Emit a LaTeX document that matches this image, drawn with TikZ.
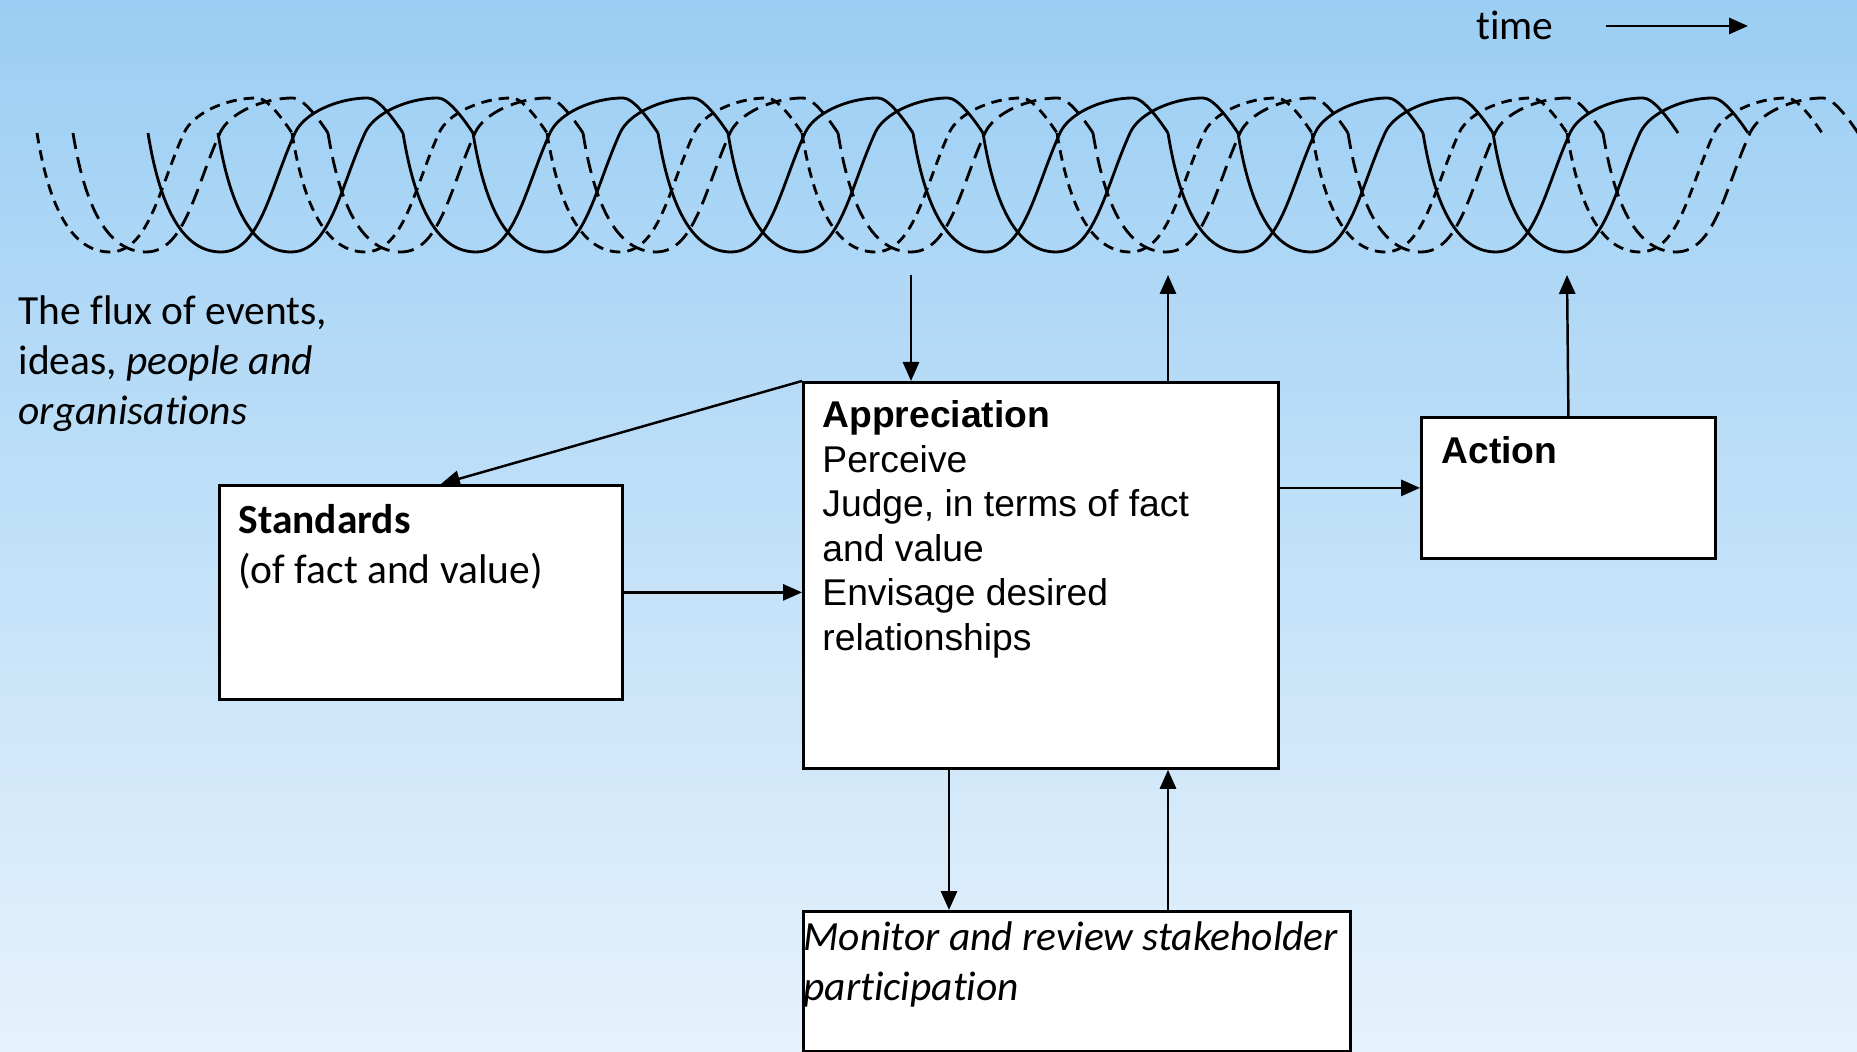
\documentclass[tikz,border=0pt]{standalone}
\usepackage{fontspec}
\setmainfont{Carlito}[Ligatures=NoCommon]
\newfontfamily\arialfont{Liberation Sans}
\usetikzlibrary{arrows.meta}

\definecolor{skytop}{RGB}{155,206,244}
\definecolor{skybot}{RGB}{230,242,252}

\tikzset{
  box/.style={draw, fill=white, line width=0.8pt, anchor=north west},
  arr/.style={line width=0.7pt, -{Triangle[length=5.4pt,width=4.6pt]}},
  strand/.style={line width=0.8pt},
  shortdash/.style={strand, dash pattern=on 3pt off 2pt},
  longdash/.style={strand, dash pattern=on 4.6pt off 2.4pt},
}
% one turn of the coil, from kink to kink
\newcommand{\helixturn}{(0,0) .. controls (0.12,-0.75) and (0.35,-1.19) .. (0.73,-1.19)
  .. controls (1.12,-1.19) and (1.22,-0.55) .. (1.47,0)
  .. controls (1.56,0.2) and (1.9,0.35) .. (2.2,0.35)
  .. controls (2.3,0.35) and (2.45,0.15) .. (2.55,0)}
\newcommand{\boxtext}[3]{\parbox[c][#2][t]{#1}{\raggedright #3}}

\begin{document}
\begin{tikzpicture}[font=\fontsize{11.8}{14.2}\selectfont]
\useasboundingbox (0,0) rectangle (18.57,10.52);
\shade[top color=skytop, bottom color=skybot] (0,0) rectangle (18.57,10.52);

% the flux of events
\foreach \k in {0,...,5} {
  \draw[strand, shift={(1.48+2.55*\k,9.19)}] \helixturn;
  \draw[strand, shift={(2.18+2.55*\k,9.19)}] \helixturn;
}
\foreach \k in {0,...,6} {
  \draw[shortdash, shift={(0.37+2.55*\k,9.19)}] \helixturn;
  \draw[longdash, shift={(0.73+2.55*\k,9.19)}] \helixturn;
}

\node[anchor=base, inner sep=0pt] (time) at (15.15,10.12) {time};
\coordinate (tend) at (17.48,10.26);
\draw[arr] ([xshift=0.52cm]time.east |- tend) -- (tend);

\node[anchor=north west, inner sep=0pt, align=left] (flux) at (0.18,7.57)
  {The flux of events,\\ideas, \textit{people and}\\\textit{organisations}};

\node[box, inner xsep=0.19cm, inner ysep=0.19cm] (std) at (2.18,5.68)
  {\boxtext{3.65cm}{1.76cm}{\textbf{Standards}\\(of fact and value)}};
\node[box, inner xsep=0.19cm, inner ysep=0.18cm] (appr) at (8.02,6.71)
  {\arialfont\fontsize{10.6}{12.7}\selectfont\boxtext{4.37cm}{3.50cm}{\textbf{Appreciation}\\Perceive\\Judge, in terms of fact\\and value\\Envisage desired\\relationships}};
\node[box, inner xsep=0.20cm, inner ysep=0.19cm] (act) at (14.20,6.36)
  {\arialfont\fontsize{10.6}{12.7}\selectfont\boxtext{2.54cm}{1.03cm}{\textbf{Action}}};
\node[box, inner xsep=0.0cm, inner ysep=0.10cm] (mon) at (8.02,1.42)
  {\boxtext{5.47cm}{1.20cm}{\textit{Monitor and review stakeholder}\\\textit{participation}}};

\coordinate (fluxin) at (9.11,7.77);
\coordinate (fluxout) at (11.68,7.77);
\coordinate (actout) at (15.67,7.77);

\draw[arr] (fluxin) -- (fluxin |- appr.north);
\draw[arr] (fluxout |- appr.north) -- (fluxout);
\draw[arr] (act.north) -- (actout);
\draw[arr] (appr.north west) -- ([xshift=0.2cm]std.north);
\draw[arr] (std.east) -- (std.east -| appr.west);
\draw[arr] (act.west -| appr.east) -- (act.west);
\draw[arr] ([xshift=1.47cm]appr.south west) -- ([xshift=1.47cm]mon.north west);
\draw[arr] (fluxout |- mon.north) -- (fluxout |- appr.south);
\end{tikzpicture}
\end{document}
